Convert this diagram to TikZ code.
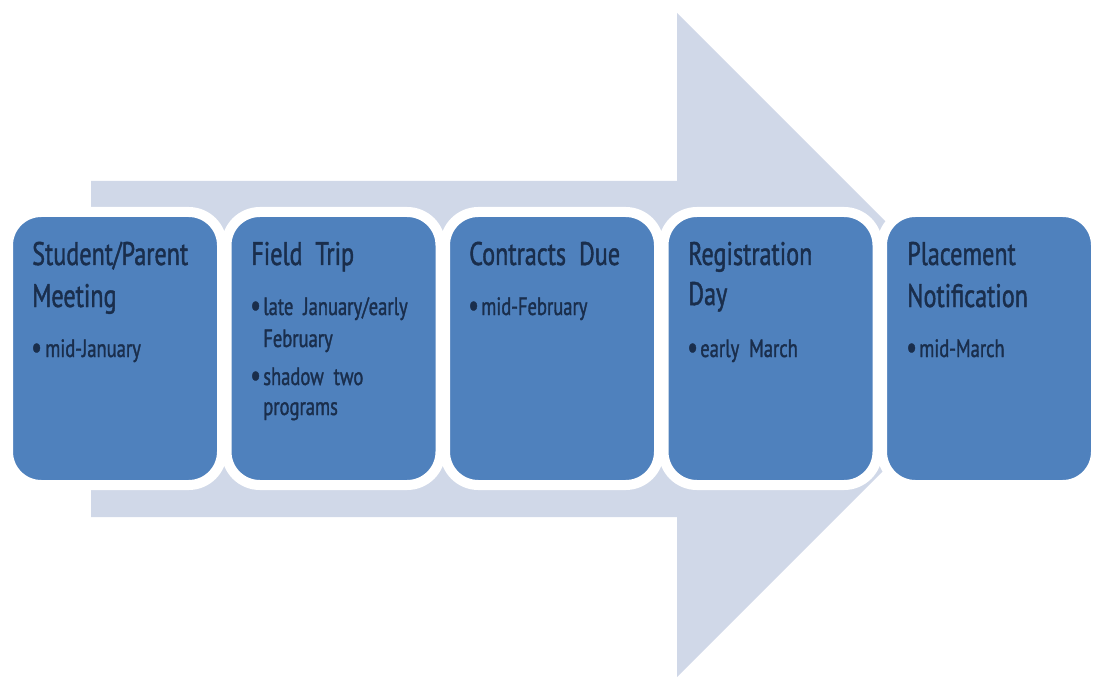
\documentclass[tikz,border=0pt]{standalone}
\usepackage{fontspec}
\setmainfont{PT Sans}[FakeStretch=0.74,FakeBold=1.3]
\definecolor{arrowfill}{HTML}{D0D8E8}
\definecolor{boxfill}{HTML}{4F81BD}
\definecolor{txt}{HTML}{1A2E4C}
\begin{document}
\begin{tikzpicture}[x=0.75pt,y=-0.75pt,
  stepbox/.style={draw=white,line width=7.5pt,fill=boxfill,rounded corners=25pt,
    minimum width=214*0.75pt,minimum height=273*0.75pt,inner sep=0pt},
  ttl/.style={anchor=base west,inner sep=0pt,text=txt,font=\fontsize{24.5pt}{30pt}\selectfont},
  itm/.style={anchor=base west,inner sep=0pt,text=txt,font=\fontsize{18.8pt}{24pt}\selectfont},
  bul/.style={anchor=base west,inner sep=0pt,text=txt,font=\fontsize{24pt}{24pt}\selectfont}]
\useasboundingbox (0,0) rectangle (1095,677);
% big arrow
\coordinate (a1) at (91,181);
\coordinate (a2) at (677,181);
\coordinate (a3) at (677,13);
\coordinate (a4) at (1009,345);
\coordinate (a5) at (677,677);
\coordinate (a6) at (677,517);
\coordinate (a7) at (91,517);
\fill[arrowfill] (a1) -- (a2) -- (a3) -- (a4) -- (a5) -- (a6) -- (a7) -- cycle;
% boxes
\node[stepbox] (s1) at (115,348.5) {};
\node[stepbox] (s2) at (333.5,348.5) {};
\node[stepbox] (s3) at (552,348.5) {};
\node[stepbox] (s4) at (770.5,348.5) {};
\node[stepbox] (s5) at (989,348.5) {};
% box 1
\node[ttl] (t1a) at (32,265) {Student/Parent};
\node[ttl] (t1b) at (32,307) {Meeting};
\node[bul] (p1a) at (31,358) {•};
\node[itm] (i1a) at (45,357) {mid-January};
% box 2
\node[ttl] (t2a) at (251,265) {Field\ \ Trip};
\node[bul] (p2a) at (250,316) {•};
\node[itm] (i2a) at (263,315) {late\ \ January/early};
\node[itm] (i2b) at (263,347) {February};
\node[bul] (p2b) at (250,386) {•};
\node[itm] (i2c) at (263,385) {shadow\ \ two};
\node[itm] (i2d) at (263,415) {programs};
% box 3
\node[ttl] (t3a) at (469,265) {Contracts\ \ Due};
\node[bul] (p3a) at (468,316) {•};
\node[itm] (i3a) at (481,315) {mid-February};
% box 4
\node[ttl] (t4a) at (688,265) {Registration};
\node[ttl] (t4b) at (688,305) {Day};
\node[bul] (p4a) at (687,358) {•};
\node[itm] (i4a) at (700,357) {early\ \ March};
% box 5
\node[ttl] (t5a) at (907,265) {Placement};
\node[ttl] (t5b) at (907,307) {Notification};
\node[bul] (p5a) at (906,358) {•};
\node[itm] (i5a) at (919,357) {mid-March};
\end{tikzpicture}
\end{document}
